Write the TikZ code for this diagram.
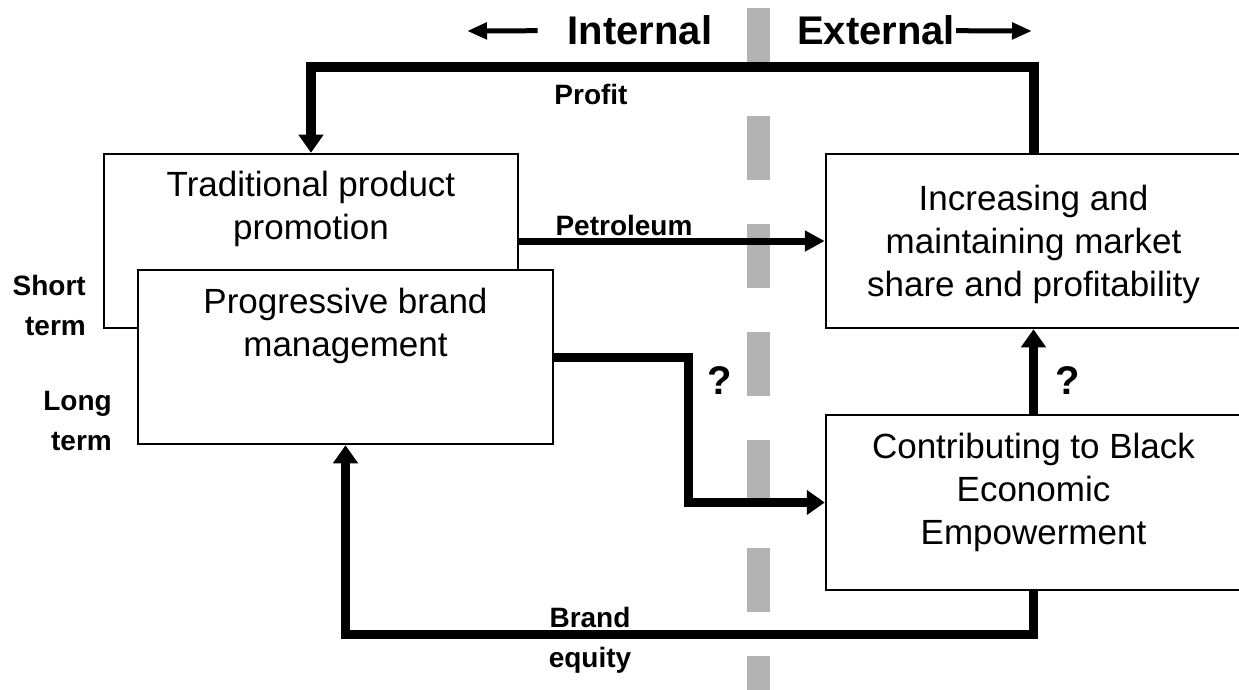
\documentclass[tikz,border=0pt]{standalone}
\usepackage{fontspec}
\setmainfont{Liberation Sans}
\usetikzlibrary{positioning,arrows.meta}
\definecolor{divider}{RGB}{179,179,179}
\tikzset{
  box/.style={draw, line width=2.5pt, fill=white, minimum width=415pt,
    minimum height=174pt, inner sep=0pt},
  boxtext/.style={align=center, inner sep=0pt, font=\fontsize{35}{43}\selectfont},
  lbl/.style={inner sep=0pt, font=\bfseries\fontsize{28}{40}\selectfont},
  biglbl/.style={inner sep=0pt, font=\bfseries\fontsize{40}{40}\selectfont},
  flow/.style={line width=9pt, -{Triangle[length=18pt, width=24pt]}},
  side/.style={line width=5pt, -{Triangle[length=20pt, width=16pt]}},
}

\begin{document}
\begin{tikzpicture}[x=1pt, y=-1pt]
\useasboundingbox (0,0) rectangle (1239,690);

% garis pemisah internal / eksternal
\draw[divider, line width=23pt, dash pattern=on 64pt off 44pt] (758.5,8) -- (758.5,690);

% judul
\node[biglbl, anchor=base] (int) at (640,45) {Internal};
\node[biglbl, anchor=base] (ext) at (876,45) {External};
\coordinate (intend) at (467,31);
\coordinate (extend) at (1032,31);
\draw[side] ([xshift=-30pt]int.west) -- (intend);
\draw[side] ([xshift=1pt]ext.east) -- (extend);

% kotak
\node[box, minimum width=414pt] (trad) at (311,241) {};
\node[box] (prog) at (345.5,357) {};
\node[box] (incr) at (1033.5,241) {};
\node[box, minimum height=175pt] (bee) at (1033.5,502.5) {};

% isi kotak
\node[boxtext, below=18pt of trad.north] (tradtxt) {Traditional product\\promotion};
\node[boxtext, below=19pt of prog.north] (progtxt) {Progressive brand\\management};
\node[boxtext, below=32pt of incr.north] (incrtxt) {Increasing and\\maintaining market\\share and profitability};
\node[boxtext, below=19pt of bee.north] (beetxt) {Contributing to Black\\Economic\\Empowerment};

% label samping
\node[lbl, align=right, anchor=north east] (short) at (86,275) {Short\\term};
\node[lbl, align=right, anchor=north east] (long) at (112,391) {Long\\term};

% panah
\draw[flow, line width=10pt] (incr.north) -- ++(0,-86) -| (trad.north);
\draw[line width=7pt, -{Triangle[length=20pt, width=20pt]}] (trad.east) -- (incr.west);
\draw[flow] (prog.east) -- ++(134,0) |- (bee.west);
\draw[flow] (bee.north) -- (incr.south);
\draw[flow] (bee.south) -- ++(0,43) -| (prog.south);

% label panah
\node[lbl, anchor=base] (profit) at (591,105) {Profit};
\node[lbl, anchor=base] (petrol) at (624,235) {Petroleum};
\node[lbl, align=center, anchor=north] (brand) at (590,607) {Brand\\equity};
\node[biglbl] (q1) at (720,381) {?};
\node[biglbl] (q2) at (1068,381) {?};

\end{tikzpicture}
\end{document}
